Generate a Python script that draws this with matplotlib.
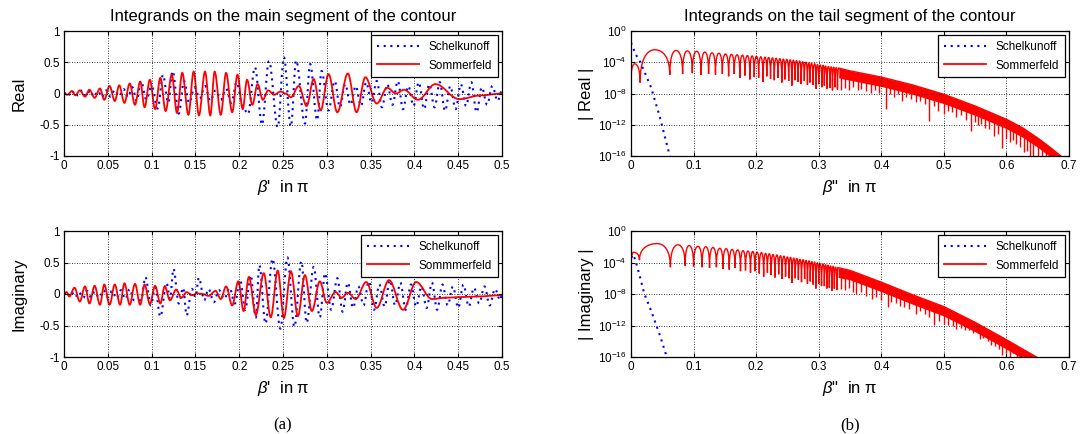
import numpy as np
import matplotlib.pyplot as plt
from matplotlib.path import Path
from matplotlib.patches import PathPatch
from matplotlib.lines import Line2D
from matplotlib.ticker import NullLocator

plt.rcParams['font.family'] = 'Liberation Sans'
plt.rcParams['axes.unicode_minus'] = False
plt.rcParams['mathtext.fontset'] = 'custom'
plt.rcParams['mathtext.rm'] = 'Liberation Sans'
plt.rcParams['mathtext.it'] = 'Liberation Sans:italic'

# ---------------- main segment (linear panels), extrema
main_re_som_x = [0.000, 0.004, 0.009, 0.013, 0.018, 0.024, 0.029, 0.035, 0.041, 0.046, 0.052, 0.058, 0.063,
                 0.069, 0.075, 0.081, 0.087, 0.092, 0.098, 0.104, 0.110, 0.116, 0.123, 0.129, 0.135, 0.142,
                 0.148, 0.154, 0.161, 0.167, 0.172, 0.179, 0.185, 0.192, 0.198, 0.204, 0.209, 0.215, 0.221,
                 0.227, 0.233, 0.240, 0.247, 0.253, 0.259, 0.268, 0.277, 0.285, 0.293, 0.302, 0.312, 0.324,
                 0.334, 0.344, 0.357, 0.369, 0.379, 0.388, 0.404, 0.424, 0.451, 0.476, 0.500]
main_re_som_y = [0.00, -0.02, 0.04, -0.03, 0.05, -0.05, 0.06, -0.07, 0.08, -0.10, 0.12, -0.12, 0.13,
                 -0.15, 0.16, -0.18, 0.19, -0.22, 0.22, -0.25, 0.25, -0.28, 0.30, -0.31, 0.33, -0.34,
                 0.35, -0.35, 0.35, -0.35, 0.35, -0.34, 0.33, -0.30, 0.30, -0.25, 0.22, -0.18, 0.15,
                 -0.10, 0.05, -0.02, 0.03, 0.00, -0.06, 0.12, -0.20, 0.23, -0.27, 0.31, -0.30, 0.32,
                 -0.30, 0.26, -0.16, 0.09, 0.00, 0.06, -0.10, 0.15, -0.09, -0.03, 0.00]

main_re_sch_x = [0.000, 0.004, 0.008, 0.012, 0.016, 0.021, 0.025, 0.030, 0.034, 0.039, 0.043, 0.048, 0.053,
                 0.058, 0.063, 0.068, 0.073, 0.078, 0.083, 0.088, 0.094, 0.100, 0.107, 0.113, 0.119, 0.124,
                 0.131, 0.137, 0.143, 0.149, 0.155, 0.161, 0.167, 0.173, 0.179, 0.185, 0.191, 0.197, 0.204,
                 0.210, 0.218, 0.226, 0.234, 0.244, 0.251, 0.259, 0.265, 0.275, 0.281, 0.289, 0.294, 0.302,
                 0.309, 0.315, 0.321, 0.327, 0.333, 0.339, 0.345, 0.351, 0.357, 0.363, 0.369, 0.375, 0.381,
                 0.387, 0.393, 0.399, 0.405, 0.411, 0.417, 0.423, 0.429, 0.435, 0.441, 0.447, 0.453, 0.459,
                 0.465, 0.471, 0.477, 0.483, 0.489, 0.495, 0.500]
main_re_sch_y = [0.00, 0.03, -0.04, 0.04, -0.03, 0.05, -0.04, 0.05, -0.05, 0.04, -0.06, 0.05, -0.05,
                 0.06, -0.04, 0.07, -0.06, 0.10, -0.12, 0.20, -0.10, 0.12, -0.24, 0.30, -0.15, 0.36,
                 -0.32, 0.20, -0.15, 0.10, -0.08, 0.12, -0.12, 0.05, -0.10, 0.08, -0.15, 0.18, -0.20,
                 -0.33, 0.42, -0.50, 0.52, -0.54, 0.58, -0.53, 0.53, -0.48, 0.47, -0.43, 0.36, -0.27,
                 0.20, -0.22, 0.15, -0.18, 0.12, -0.20, 0.18, -0.15, 0.20, -0.22, 0.15, -0.18, 0.20,
                 -0.25, 0.12, -0.20, 0.18, -0.25, 0.15, -0.22, 0.18, -0.28, 0.12, -0.25, 0.15, -0.20,
                 0.18, -0.30, 0.10, -0.18, 0.12, -0.12, 0.05]

main_im_som_x = [0.000, 0.003, 0.006, 0.012, 0.018, 0.024, 0.029, 0.035, 0.041, 0.046, 0.052, 0.058, 0.064,
                 0.069, 0.075, 0.081, 0.087, 0.092, 0.098, 0.104, 0.110, 0.115, 0.121, 0.128, 0.134, 0.140,
                 0.146, 0.152, 0.158, 0.165, 0.173, 0.179, 0.185, 0.192, 0.199, 0.205, 0.211, 0.219, 0.228,
                 0.236, 0.244, 0.251, 0.259, 0.267, 0.275, 0.283, 0.292, 0.300, 0.310, 0.317, 0.324, 0.333,
                 0.345, 0.357, 0.371, 0.387, 0.402, 0.420, 0.435, 0.450, 0.470, 0.500]
main_im_som_y = [0.02, 0.03, -0.04, 0.10, -0.12, 0.12, -0.15, 0.13, -0.17, 0.15, -0.17, 0.15, -0.17,
                 0.17, -0.17, 0.16, -0.17, 0.15, -0.16, 0.13, -0.15, 0.12, -0.10, 0.07, -0.06, 0.03,
                 -0.02, 0.01, 0.00, -0.03, 0.05, -0.08, 0.12, -0.18, 0.20, -0.27, 0.27, -0.33, 0.33,
                 -0.37, 0.37, -0.38, 0.36, -0.35, 0.30, -0.27, 0.20, -0.14, 0.03, -0.06, 0.02, -0.08,
                 0.19, -0.22, 0.22, -0.25, 0.19, -0.08, -0.06, -0.05, -0.04, -0.02]

main_im_sch_x = [0.000, 0.004, 0.008, 0.013, 0.017, 0.022, 0.026, 0.031, 0.035, 0.040, 0.045, 0.050, 0.055,
                 0.060, 0.065, 0.070, 0.075, 0.080, 0.088, 0.093, 0.099, 0.104, 0.110, 0.117, 0.121, 0.125,
                 0.131, 0.136, 0.140, 0.146, 0.150, 0.154, 0.160, 0.165, 0.171, 0.177, 0.183, 0.189, 0.195,
                 0.201, 0.207, 0.213, 0.219, 0.223, 0.230, 0.238, 0.247, 0.255, 0.263, 0.271, 0.277, 0.285,
                 0.292, 0.298, 0.305, 0.312, 0.318, 0.324, 0.330, 0.336, 0.342, 0.348, 0.354, 0.360, 0.366,
                 0.372, 0.378, 0.384, 0.390, 0.396, 0.402, 0.408, 0.414, 0.420, 0.426, 0.432, 0.438, 0.444,
                 0.450, 0.456, 0.462, 0.468, 0.474, 0.480, 0.486, 0.492, 0.498, 0.500]
main_im_sch_y = [0.02, -0.04, 0.04, -0.05, 0.03, -0.06, 0.05, -0.05, 0.04, -0.06, 0.06, -0.05, 0.05,
                 -0.07, 0.06, -0.08, 0.08, -0.10, -0.10, 0.27, -0.18, 0.10, -0.36, 0.18, -0.08, 0.40,
                 -0.15, 0.10, -0.34, 0.08, -0.05, 0.26, -0.10, 0.08, -0.13, 0.06, -0.08, 0.10, -0.15,
                 0.22, -0.25, 0.30, -0.37, 0.46, -0.47, 0.56, -0.55, 0.58, -0.52, 0.52, -0.46, 0.43,
                 -0.37, 0.33, -0.25, 0.25, -0.28, 0.18, -0.22, 0.12, -0.18, 0.20, -0.25, 0.15, -0.20,
                 0.22, -0.18, 0.18, -0.25, 0.15, -0.20, 0.12, -0.22, 0.18, -0.25, 0.15, -0.18, 0.12,
                 -0.22, 0.15, -0.20, 0.10, -0.15, 0.12, -0.18, 0.08, -0.10, 0.00]

# ---------------- tail segment (log panels), log10 values
tail_re_sch_x = [0.000, 0.004, 0.009, 0.015, 0.032, 0.046, 0.063]
tail_re_sch_log = [-1.5, -2.3, -3.2, -4.0, -7.2, -11.0, -16.3]
tail_im_sch_x = [0.000, 0.004, 0.008, 0.013, 0.021, 0.032, 0.046, 0.058]
tail_im_sch_log = [-3.4, -3.0, -4.0, -5.4, -7.9, -10.1, -13.2, -16.2]

# Sommerfeld |Real|: lobe tops and dips (cusps)
re_top_x = [0.006, 0.038, 0.072, 0.090, 0.105, 0.118, 0.1295, 0.1405,
            0.151, 0.1605, 0.1695, 0.178, 0.186, 0.1935, 0.2005, 0.2075, 0.214, 0.220, 0.226, 0.232,
            0.238, 0.2435, 0.249, 0.2545, 0.2595, 0.2645, 0.2695, 0.2745, 0.2795, 0.284, 0.2885, 0.2935,
            0.298, 0.3025, 0.307, 0.311, 0.3155, 0.320, 0.324, 0.328, 0.332]
re_top_log = [-4.2, -2.4, -2.5, -2.55, -2.6, -2.7, -2.8, -2.85,
              -2.95, -3.0, -3.05, -3.1, -3.15, -3.2, -3.25, -3.3, -3.35, -3.4, -3.45, -3.5,
              -3.55, -3.6, -3.65, -3.7, -3.75, -3.8, -3.85, -3.95, -4.0, -4.1, -4.15, -4.2,
              -4.3, -4.35, -4.4, -4.5, -4.55, -4.6, -4.65, -4.7, -4.75]
re_dip_x = [0.000, 0.0145, 0.062, 0.0825, 0.098, 0.112, 0.124, 0.135, 0.146, 0.156, 0.165, 0.174, 0.182,
            0.190, 0.197, 0.204, 0.211, 0.217, 0.223, 0.229, 0.235, 0.241, 0.246, 0.252, 0.257, 0.262,
            0.267, 0.272, 0.277, 0.282, 0.286, 0.291, 0.296, 0.300, 0.305, 0.309, 0.313, 0.318, 0.322,
            0.326, 0.330]
re_dip_log = [-6.3, -6.6, -5.6, -5.5, -5.4, -5.6, -5.5, -5.6, -5.5, -5.8, -5.5, -6.0, -5.7,
              -6.2, -5.9, -6.0, -6.5, -5.8, -6.1, -6.3, -6.0, -6.6, -6.2, -6.4, -7.0, -6.3,
              -6.5, -6.8, -6.4, -6.9, -6.6, -6.9, -7.4, -6.8, -7.2, -7.0, -7.4, -7.3, -7.6,
              -7.2, -7.5]
re_band_x = [0.332, 0.35, 0.40, 0.45, 0.50, 0.55, 0.60, 0.626, 0.65, 0.67, 0.687]
re_band_hi = [-4.75, -5.1, -5.9, -6.9, -8.1, -9.6, -11.3, -12.4, -13.7, -14.9, -16.0]
re_band_lo = [-6.0, -6.3, -7.1, -8.1, -9.3, -10.8, -12.5, -13.6, -14.9, -16.1, -17.0]
re_spike_x = [0.336, 0.342, 0.348, 0.355, 0.362, 0.368, 0.375, 0.384, 0.390, 0.397,
              0.408, 0.414, 0.420, 0.427, 0.433, 0.440, 0.448, 0.455, 0.462, 0.470,
              0.477, 0.484, 0.490, 0.500, 0.507, 0.513, 0.520, 0.527, 0.535, 0.543,
              0.549, 0.555, 0.560, 0.565, 0.572, 0.580, 0.586, 0.593, 0.599, 0.605,
              0.610, 0.615, 0.622, 0.628, 0.633, 0.637, 0.643, 0.650, 0.657, 0.664]
re_spike_log = [-7.6, -7.3, -7.5, -7.2, -7.6, -7.4, -7.7, -7.9, -7.6, -7.9,
                -10.0, -8.0, -8.4, -8.1, -8.9, -8.5, -8.7, -9.1, -8.9, -9.4,
                -11.5, -9.6, -10.2, -10.6, -10.2, -10.4, -11.0, -10.8, -11.4, -12.8,
                -11.7, -12.0, -11.9, -12.4, -12.5, -13.5, -13.2, -15.0, -13.8, -14.2,
                -14.0, -14.5, -14.8, -15.5, -15.3, -16.2, -16.2, -16.5, -16.5, -16.5]

# Sommerfeld |Imaginary|
im_top_x = [0.004, 0.042, 0.075, 0.093, 0.107, 0.1195, 0.131, 0.142,
            0.152, 0.1615, 0.1705, 0.179, 0.187, 0.1945, 0.2015, 0.2085, 0.215, 0.221, 0.227, 0.233,
            0.239, 0.2445, 0.250, 0.255, 0.260, 0.265, 0.270, 0.275, 0.280, 0.2845, 0.289, 0.2935,
            0.298, 0.302, 0.307, 0.311, 0.315, 0.319, 0.323, 0.327, 0.331]
im_top_log = [-2.7, -1.6, -1.75, -1.85, -1.95, -2.0, -2.1, -2.2,
              -2.25, -2.35, -2.4, -2.5, -2.55, -2.6, -2.7, -2.75, -2.85, -2.9, -3.0, -3.05,
              -3.15, -3.2, -3.3, -3.35, -3.45, -3.5, -3.6, -3.65, -3.75, -3.8, -3.9, -3.95,
              -4.05, -4.15, -4.2, -4.3, -4.35, -4.45, -4.5, -4.6, -4.65]
im_dip_x = [0.000, 0.0135, 0.063, 0.0865, 0.100, 0.1135, 0.1255, 0.1365, 0.147, 0.157, 0.166, 0.175,
            0.183, 0.191, 0.198, 0.205, 0.212, 0.218, 0.224, 0.230, 0.236, 0.2415, 0.247, 0.2525,
            0.2575, 0.2625, 0.2675, 0.2725, 0.2775, 0.282, 0.2865, 0.291, 0.2955, 0.300, 0.3045,
            0.309, 0.313, 0.317, 0.321, 0.325, 0.329]
im_dip_log = [-4.8, -3.7, -4.6, -4.4, -4.5, -4.6, -4.7, -4.6, -4.8, -4.9, -4.7, -5.1,
              -5.0, -5.3, -5.1, -5.4, -5.8, -5.3, -5.6, -5.9, -5.5, -6.1, -5.8, -6.0,
              -6.6, -6.0, -6.2, -6.5, -6.1, -6.7, -6.4, -6.8, -7.3, -6.7, -7.0,
              -7.0, -7.3, -7.2, -7.6, -7.3, -7.5]
im_band_x = [0.331, 0.35, 0.40, 0.45, 0.50, 0.55, 0.60, 0.626, 0.648]
im_band_hi = [-4.65, -5.0, -6.5, -8.1, -9.6, -11.6, -13.8, -15.0, -16.0]
im_band_lo = [-5.9, -6.2, -7.7, -9.3, -10.8, -12.8, -15.0, -16.2, -17.0]
im_spike_x = [0.335, 0.342, 0.348, 0.355, 0.360, 0.367, 0.375, 0.385, 0.392, 0.400,
              0.410, 0.416, 0.423, 0.430, 0.437, 0.445, 0.455, 0.462, 0.470, 0.477,
              0.484, 0.492, 0.500, 0.507, 0.514, 0.520, 0.527, 0.534, 0.540, 0.547,
              0.557, 0.563, 0.570, 0.575, 0.582, 0.588, 0.593, 0.600, 0.605, 0.610,
              0.617, 0.623, 0.630, 0.636, 0.642]
im_spike_log = [-7.4, -7.5, -7.3, -7.8, -8.0, -7.7, -8.2, -8.6, -8.4, -8.8,
                -9.7, -9.0, -9.2, -9.5, -9.6, -9.9, -10.5, -10.2, -10.6, -10.9,
                -11.9, -11.4, -11.8, -11.9, -12.0, -12.4, -12.3, -12.6, -12.6, -12.9,
                -13.7, -13.6, -14.0, -14.5, -14.6, -15.0, -15.7, -15.5, -16.0, -15.5,
                -16.2, -16.2, -16.5, -16.5, -16.5]

RED = '#ff0000'
BLUE = '#0000ff'
DOT = (0, (1, 2.2))

fig = plt.figure(figsize=(10.8, 4.34), dpi=100)
W, H = 1080.0, 434.0
axA = fig.add_axes([64 / W, 1 - 156 / H, 438 / W, 125 / H])
axB = fig.add_axes([64 / W, 1 - 357 / H, 438 / W, 126 / H])
axC = fig.add_axes([631 / W, 1 - 156 / H, 438 / W, 125 / H])
axD = fig.add_axes([631 / W, 1 - 357 / H, 438 / W, 126 / H])


def wave_path(xs, ys, k=0.36):
    # smooth curve through the read extrema (horizontal tangent at each one)
    verts = [(xs[0], ys[0])]
    codes = [Path.MOVETO]
    for i in range(len(xs) - 1):
        dx = xs[i + 1] - xs[i]
        verts += [(xs[i] + k * dx, ys[i]), (xs[i + 1] - k * dx, ys[i + 1]), (xs[i + 1], ys[i + 1])]
        codes += [Path.CURVE4] * 3
    return Path(verts, codes)


def lobe_path(top_x, top_log, dip_x, dip_log):
    # arches between cusps, drawn on a log axis
    x = np.concatenate([top_x, dip_x])
    v = np.concatenate([top_log, dip_log])
    is_top = np.concatenate([np.ones(len(top_x), bool), np.zeros(len(dip_x), bool)])
    o = np.argsort(x)
    x, v, is_top = x[o], v[o], is_top[o]
    verts = [(x[0], 10.0 ** v[0])]
    codes = [Path.MOVETO]
    for i in range(len(x) - 1):
        x0, v0, x1, v1 = x[i], v[i], x[i + 1], v[i + 1]
        dx = x1 - x0
        if is_top[i]:
            c1 = (x0 + 0.55 * dx, v0)
            c2 = (x1, v0 + 0.3 * (v1 - v0))
        else:
            c1 = (x0, v1 + 0.3 * (v0 - v1))
            c2 = (x1 - 0.55 * dx, v1)
        verts += [(c1[0], 10.0 ** c1[1]), (c2[0], 10.0 ** c2[1]), (x1, 10.0 ** v1)]
        codes += [Path.CURVE4] * 3
    return Path(verts, codes)


def style(ax):
    ax.grid(True, color='black', linestyle=(0, (1, 2)), linewidth=0.6)
    ax.tick_params(direction='in', top=True, right=True, length=3, labelsize=8.5, pad=3)
    for s in ax.spines.values():
        s.set_linewidth(0.9)


def legend(ax, labels):
    handles = [Line2D([], [], color=BLUE, linestyle=DOT, linewidth=1.5),
               Line2D([], [], color=RED, linewidth=1.3)]
    lg = ax.legend(handles, labels, loc='upper right', fontsize=8.5, handlelength=3.6,
                   labelspacing=0.55, borderpad=0.5, borderaxespad=0.35, fancybox=False, framealpha=1)
    lg.get_frame().set_edgecolor('black')
    lg.get_frame().set_linewidth(0.9)


# ---- linear panels
for ax, sx, sy, mx, my, ylab, labs in [
        (axA, main_re_sch_x, main_re_sch_y, main_re_som_x, main_re_som_y, 'Real',
         ['Schelkunoff', 'Sommerfeld']),
        (axB, main_im_sch_x, main_im_sch_y, main_im_som_x, main_im_som_y, 'Imaginary',
         ['Schelkunoff', 'Sommmerfeld'])]:
    ax.add_patch(PathPatch(wave_path(sx, sy), fill=False, edgecolor=BLUE, linestyle=DOT, linewidth=1.5))
    ax.add_patch(PathPatch(wave_path(mx, my), fill=False, edgecolor=RED, linewidth=1.3))
    ax.set_xlim(0, 0.5)
    ax.set_ylim(-1, 1)
    ax.set_xticks(np.arange(0, 0.501, 0.05))
    ax.set_xticklabels(['%g' % v for v in np.round(np.arange(0, 0.501, 0.05), 2)])
    ax.set_yticks([-1, -0.5, 0, 0.5, 1])
    ax.set_yticklabels(['-1', '-0.5', '0', '0.5', '1'])
    style(ax)
    ax.set_ylabel(ylab, fontsize=12)
    ax.yaxis.set_label_coords(-0.085, 0.5)
    ax.set_xlabel(r"$\beta$'  in π", fontsize=12)
    legend(ax, labs)

# ---- log panels
for ax, sx, slog, parts, band, spikes, ylab in [
        (axC, tail_re_sch_x, tail_re_sch_log, (re_top_x, re_top_log, re_dip_x, re_dip_log),
         (re_band_x, re_band_hi, re_band_lo), (re_spike_x, re_spike_log), '| Real |'),
        (axD, tail_im_sch_x, tail_im_sch_log, (im_top_x, im_top_log, im_dip_x, im_dip_log),
         (im_band_x, im_band_hi, im_band_lo), (im_spike_x, im_spike_log), '| Imaginary |')]:
    ax.set_yscale('log')
    ax.set_xlim(0, 0.7)
    ax.set_ylim(1e-16, 1)
    ax.plot(sx, 10.0 ** np.array(slog), color=BLUE, linestyle=DOT, linewidth=1.5)
    ax.add_patch(PathPatch(lobe_path(*parts), fill=False, edgecolor=RED, linewidth=1.0))
    bx, bhi, blo = band
    ax.fill_between(bx, 10.0 ** np.array(blo), 10.0 ** np.array(bhi), color=RED, linewidth=0)
    ax.plot(bx, 10.0 ** np.array(bhi), color=RED, linewidth=1.0)
    # spikes hang down from the band, clipped to stay under its upper edge
    kx, klo = spikes
    lc = ax.vlines(kx, 10.0 ** np.array(klo), 1.0, color=RED, linewidth=1.0)
    under = Path(list(zip(bx, 10.0 ** np.array(bhi))) + [(bx[-1], 1e-20), (bx[0], 1e-20)], closed=False)
    lc.set_clip_path(under, ax.transData)
    ax.set_xlim(0, 0.7)
    ax.set_ylim(1e-16, 1)
    ax.set_xticks(np.arange(0, 0.701, 0.1))
    ax.set_xticklabels(['%g' % v for v in np.round(np.arange(0, 0.701, 0.1), 1)])
    ax.set_yticks([1e-16, 1e-12, 1e-8, 1e-4, 1])
    ax.set_yticklabels([r'$10^{-16}$', r'$10^{-12}$', r'$10^{-8}$', r'$10^{-4}$', r'$10^{0}$'])
    ax.yaxis.set_minor_locator(NullLocator())
    style(ax)
    ax.set_ylabel(ylab, fontsize=12)
    ax.yaxis.set_label_coords(-0.085, 0.5)
    ax.set_xlabel(r'$\beta$"  in π', fontsize=12)
    legend(ax, ['Schelkunoff', 'Sommerfeld'])

axA.set_title('Integrands on the main segment of the contour', fontsize=12, pad=7)
axC.set_title('Integrands on the tail segment of the contour', fontsize=12, pad=7)

fig.text(283 / W, 1 - 425 / H, '(a)', family='Liberation Serif', fontsize=12, ha='center', va='center')
fig.text(850 / W, 1 - 425 / H, '(b)', family='Liberation Serif', fontsize=12, ha='center', va='center')

fig.savefig('out.png', dpi=100)
